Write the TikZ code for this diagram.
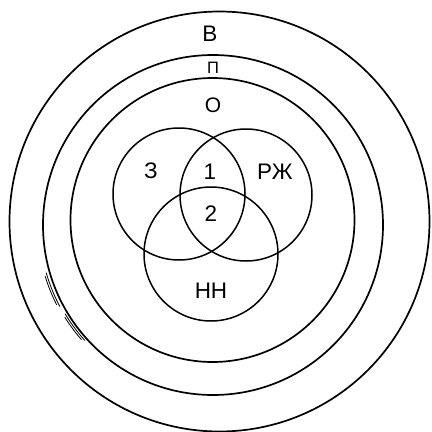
\documentclass[tikz,border=0pt]{standalone}
\usepackage{fontspec}
\setmainfont{Liberation Sans}
\tikzset{
  ring/.style={circle, draw=black, line width=1.7pt, inner sep=0pt},
  lbl/.style={inner sep=0pt, font=\fontsize{22.5}{22.5}\selectfont},
  smalllbl/.style={inner sep=0pt, font=\fontsize{16.5}{16.5}\selectfont},
  scribble/.style={line width=0.8pt, line cap=round}
}
\begin{document}
\begin{tikzpicture}[x=1pt, y=-1pt]
\useasboundingbox (0,0) rectangle (432,432);
\fill[white] (0,0) rectangle (432,432);
% nested circles
\node[ring, minimum size=420pt] (V) at (219.5,221.5) {};
\node[ring, minimum size=340pt] (P) at (213,225) {};
\node[ring, minimum size=284pt] (O) at (212.5,220) {};
% Venn circles
\node[ring, line width=1.5pt, minimum size=132pt] (Z) at (179,194) {};
\node[ring, line width=1.5pt, minimum size=132pt] (R) at (246,195) {};
\node[ring, line width=1.5pt, minimum size=134pt] (N) at (211,254) {};
% retraced pencil strokes beside circle P
\draw[scribble] plot[domain=152:164, samples=12] ({213+173.5*cos(\x)}, {225+173.5*sin(\x)});
\draw[scribble] plot[domain=153:163, samples=12] ({213+175.5*cos(\x)}, {225+175.5*sin(\x)});
\draw[scribble] plot[domain=138:149, samples=12] ({213+172.5*cos(\x)}, {225+172.5*sin(\x)});
\draw[scribble] plot[domain=139:148, samples=12] ({213+174.5*cos(\x)}, {225+174.5*sin(\x)});
% labels
\node[lbl] (lV) at (210,34) {В};
\node[smalllbl] (lP) at (213,67.5) {П};
\node[lbl, font=\fontsize{21}{21}\selectfont] (lO) at (213,105) {О};
\node[lbl] (lZ) at (151,171) {З};
\node[lbl] (l1) at (210,172) {1};
\node[lbl] (lR) at (275,172) {РЖ};
\node[lbl] (l2) at (211,214) {2};
\node[lbl] (lN) at (211,291) {НН};
\end{tikzpicture}
\end{document}
